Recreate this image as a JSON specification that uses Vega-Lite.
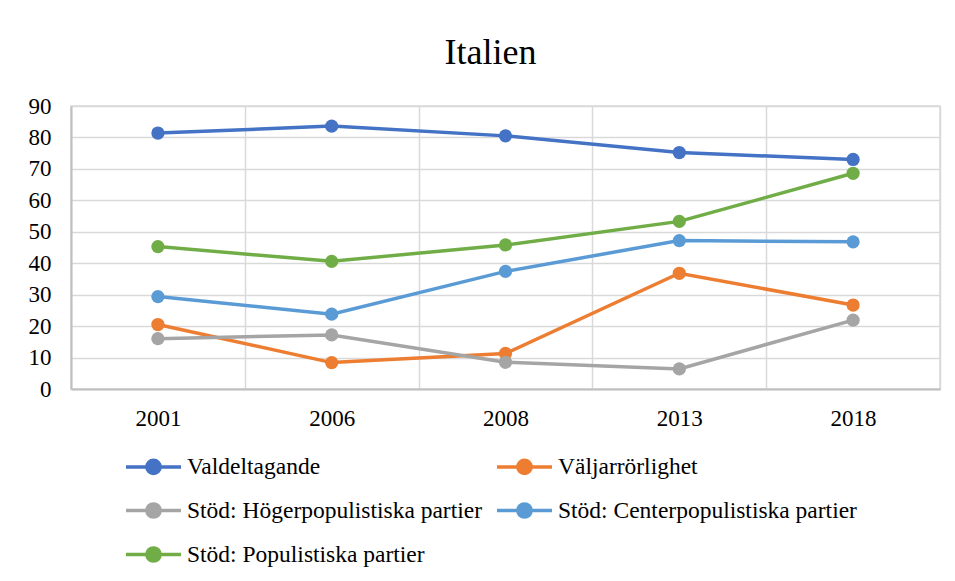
{
  "$schema": "https://vega.github.io/schema/vega-lite/v6.json",
  "width": 869,
  "height": 283,
  "autosize": {"type": "none"},
  "padding": {"left": 71, "top": 106, "right": 15, "bottom": 192},
  "background": "white",
  "title": {"text": "Italien", "fontSize": 36, "font": "Liberation Serif", "fontWeight": "normal", "color": "black", "anchor": "middle", "dx": -15, "offset": 23},
  "config": {
    "view": {"stroke": "#d9d9d9", "strokeWidth": 1.5},
    "font": "Liberation Serif"
  },
  "data": {
    "values": [
      {"year": "2001", "series": "Valdeltagande", "value": 81.4},
      {"year": "2006", "series": "Valdeltagande", "value": 83.6},
      {"year": "2008", "series": "Valdeltagande", "value": 80.5},
      {"year": "2013", "series": "Valdeltagande", "value": 75.2},
      {"year": "2018", "series": "Valdeltagande", "value": 73.0},
      {"year": "2001", "series": "Väljarrörlighet", "value": 20.5},
      {"year": "2006", "series": "Väljarrörlighet", "value": 8.4},
      {"year": "2008", "series": "Väljarrörlighet", "value": 11.3},
      {"year": "2013", "series": "Väljarrörlighet", "value": 36.8},
      {"year": "2018", "series": "Väljarrörlighet", "value": 26.7},
      {"year": "2001", "series": "Stöd: Högerpopulistiska partier", "value": 16.0},
      {"year": "2006", "series": "Stöd: Högerpopulistiska partier", "value": 17.2},
      {"year": "2008", "series": "Stöd: Högerpopulistiska partier", "value": 8.5},
      {"year": "2013", "series": "Stöd: Högerpopulistiska partier", "value": 6.4},
      {"year": "2018", "series": "Stöd: Högerpopulistiska partier", "value": 21.9},
      {"year": "2001", "series": "Stöd: Centerpopulistiska partier", "value": 29.4},
      {"year": "2006", "series": "Stöd: Centerpopulistiska partier", "value": 23.8},
      {"year": "2008", "series": "Stöd: Centerpopulistiska partier", "value": 37.4},
      {"year": "2013", "series": "Stöd: Centerpopulistiska partier", "value": 47.2},
      {"year": "2018", "series": "Stöd: Centerpopulistiska partier", "value": 46.8},
      {"year": "2001", "series": "Stöd: Populistiska partier", "value": 45.3},
      {"year": "2006", "series": "Stöd: Populistiska partier", "value": 40.6},
      {"year": "2008", "series": "Stöd: Populistiska partier", "value": 45.8},
      {"year": "2013", "series": "Stöd: Populistiska partier", "value": 53.3},
      {"year": "2018", "series": "Stöd: Populistiska partier", "value": 68.6}
    ]
  },
  "mark": {"type": "line", "strokeWidth": 3.5, "point": {"filled": true, "size": 175, "opacity": 1}},
  "encoding": {
    "x": {
      "field": "year", "type": "ordinal", "bandPosition": 0.5,
      "scale": {"type": "band", "paddingInner": 0, "paddingOuter": 0},
      "axis": {"title": null, "labelAngle": 0, "tickBand": "extent", "ticks": false, "grid": true, "gridColor": "#d9d9d9", "gridWidth": 1.5, "domainColor": "#bfbfbf", "domainWidth": 2, "labelFont": "Liberation Serif", "labelFontSize": 23, "labelColor": "black", "labelPadding": 18}
    },
    "y": {
      "field": "value", "type": "quantitative",
      "scale": {"domain": [0, 90], "nice": false},
      "axis": {"title": null, "values": [0,10,20,30,40,50,60,70,80,90], "ticks": false, "grid": true, "gridColor": "#d9d9d9", "gridWidth": 1.5, "domainColor": "#bfbfbf", "domainWidth": 2, "labelFont": "Liberation Serif", "labelFontSize": 23, "labelColor": "black", "labelPadding": 20}
    },
    "color": {
      "field": "series", "type": "nominal",
      "scale": {
        "domain": ["Valdeltagande", "Väljarrörlighet", "Stöd: Högerpopulistiska partier", "Stöd: Centerpopulistiska partier", "Stöd: Populistiska partier"],
        "range": ["#4472C4", "#ED7D31", "#A5A5A5", "#5B9BD5", "#70AD47"]
      },
      "legend": {
        "title": null, "orient": "none", "legendX": 53, "legendY": 331, "direction": "horizontal", "columns": 2,
        "symbolType": "M-1,0L1,0M0.24,0A0.24,0.24,0,1,1,-0.24,0A0.24,0.24,0,1,1,0.24,0Z",
        "symbolSize": 3025, "symbolStrokeWidth": 3.5,
        "labelFont": "Liberation Serif", "labelFontSize": 23.5, "labelColor": "black", "labelOffset": 4, "labelLimit": 400,
        "rowPadding": -2, "columnPadding": 7,
        "encode": {"symbols": {"update": {"fill": {"scale": "color", "field": "value"}, "opacity": {"value": 1}}}}
      }
    }
  }
}
